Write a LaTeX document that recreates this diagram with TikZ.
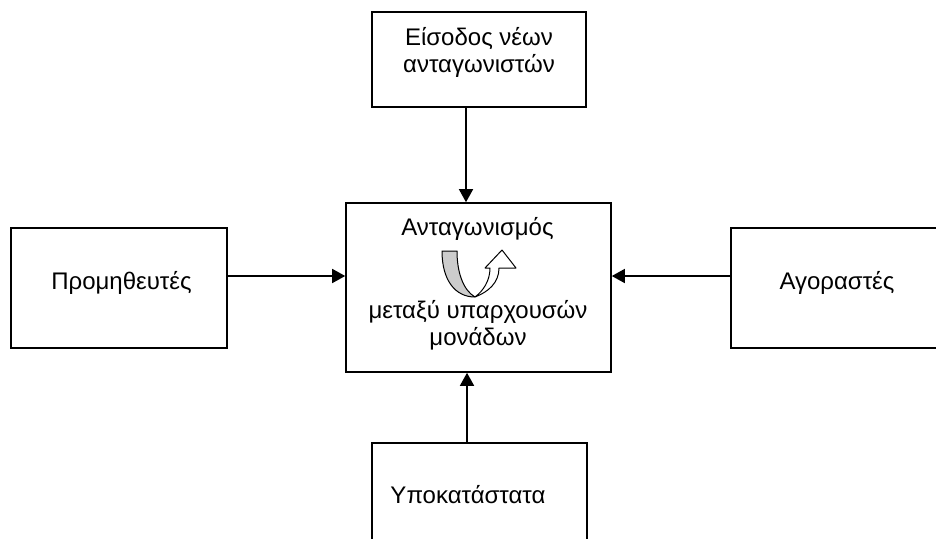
\documentclass[tikz,border=0pt]{standalone}
\usepackage{fontspec}
\setmainfont{Liberation Sans}
\usetikzlibrary{arrows.meta}
\begin{document}
\begin{tikzpicture}[x=1pt,y=-1pt,
  box/.style={draw=black, line width=1.6pt, fill=white, inner sep=0pt},
  txt/.style={font=\fontsize{24}{27.6}\selectfont, inner sep=0pt, anchor=base},
  arr/.style={line width=1.5pt, -{Triangle[length=13pt,width=14pt]}},
  uturn/.style={draw=black, line width=1pt, line join=round}
  ]
\useasboundingbox (0,0) rectangle (936,538);
\clip (0,0) rectangle (936,538);
% boxes
\node[box, minimum width=214pt, minimum height=95pt] (top) at (479,59.5) {};
\node[box, minimum width=265pt, minimum height=169pt] (mid) at (478.5,287.5) {};
\node[box, minimum width=216pt, minimum height=120pt] (sup) at (119,288) {};
\node[box, minimum width=212pt, minimum height=120pt] (buy) at (837,288) {};
\node[box, minimum width=215pt, minimum height=97pt] (subs) at (479.5,491.5) {};
% texts
\node[txt] (t1a) at (479,45) {Είσοδος νέων};
\node[txt] (t1b) at (479,72) {ανταγωνιστών};
\node[txt] (m1) at (477.5,235) {Ανταγωνισμός};
\node[txt] (m2) at (478,318) {μεταξύ υπαρχουσών};
\node[txt] (m3) at (478,345) {μονάδων};
\node[txt] (ts) at (121.5,289) {Προμηθευτές};
\node[txt] (tb) at (837,289) {Αγοραστές};
\node[txt] (tsub) at (468,503) {Υποκατάστατα};
% connectors
\coordinate (ax) at (466,0);
\coordinate (bx) at (467,0);
\coordinate (ay) at (0,276);
\draw[arr] (top.south -| ax) -- (mid.north -| ax);
\draw[arr] (subs.north -| bx) -- (mid.south -| bx);
\draw[arr] (sup.east |- ay) -- (mid.west |- ay);
\draw[arr] (buy.west |- ay) -- (mid.east |- ay);
% U-turn arrow
\filldraw[uturn, fill=black!20] (442,251) .. controls (442,280) and (455,297) .. (475,297)
   .. controls (463,290) and (457,272) .. (457,251) -- cycle;
\filldraw[uturn, fill=white] (475,297) .. controls (488,292) and (499,283) .. (499,268)
   -- (516,268) -- (502,250) -- (485,268) -- (490,268)
   .. controls (490,281) and (483,291) .. (475,297) -- cycle;
\end{tikzpicture}
\end{document}
